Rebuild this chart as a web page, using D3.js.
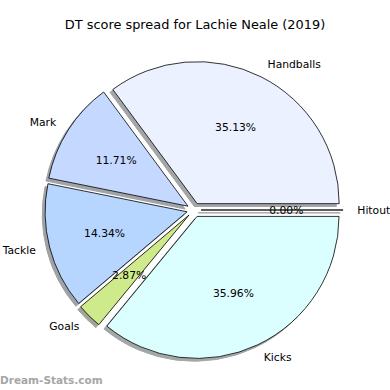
<!DOCTYPE html>
<html>
<head>
<meta charset="utf-8">
<script src="https://cdn.jsdelivr.net/npm/d3@7"></script>
<style>
  body { margin: 0; background: #fff; }
  svg { display: block; font-family: "DejaVu Sans", sans-serif; }
</style>
</head>
<body>
<div id="chart"></div>
<script>
// slices, counterclockwise from 3 o'clock (matplotlib order)
var labels = ["Hitout", "Handballs", "Mark", "Tackle", "Goals", "Kicks"];
var values = [0.00, 35.13, 11.71, 14.34, 2.87, 35.96];
var colors = ["#ffffff", "#ebf1ff", "#c5d8ff", "#b6d6ff", "#cfea8b", "#dbffff"];

var width = 390, height = 390;
var cx = 194, cy = 210, radius = 142;
var explode = 0.05 * radius;
var shadowOff = 0.02 * radius;

var svg = d3.select("#chart").append("svg")
    .attr("width", width)
    .attr("height", height);

svg.append("text")
    .attr("x", width / 2)
    .attr("y", 29)
    .attr("text-anchor", "middle")
    .style("font-size", "12.9px")
    .text("DT score spread for Lachie Neale (2019)");

var pie = d3.pie().sort(null)
    .startAngle(Math.PI / 2)
    .endAngle(Math.PI / 2 - 2 * Math.PI);

var arcs = pie(values);
var arc = d3.arc().innerRadius(0).outerRadius(radius);

// mid direction of each slice in screen coords
function dir(d) {
  var a = (d.startAngle + d.endAngle) / 2;
  return [Math.sin(a), -Math.cos(a)];
}

// shadows first, under every wedge
svg.append("g").selectAll("path")
    .data(arcs)
    .join("path")
    .attr("transform", function(d) {
      var u = dir(d);
      return "translate(" + (cx + explode * u[0] - shadowOff) + "," + (cy + explode * u[1] + shadowOff) + ")";
    })
    .attr("d", arc)
    .attr("fill", function(d, i) { return d3.rgb(colors[i]).darker(4); })
    .attr("stroke", function(d, i) { return d3.rgb(colors[i]).darker(4); })
    .attr("stroke-width", 1)
    .attr("opacity", 0.45);

svg.append("g").selectAll("path")
    .data(arcs)
    .join("path")
    .attr("transform", function(d) {
      var u = dir(d);
      return "translate(" + (cx + explode * u[0]) + "," + (cy + explode * u[1]) + ")";
    })
    .attr("d", arc)
    .attr("fill", function(d, i) { return colors[i]; })
    .attr("stroke", "#000")
    .attr("stroke-width", 0.8)
    .attr("stroke-linejoin", "miter");

// category labels at 1.1 r
svg.append("g").selectAll("text")
    .data(arcs)
    .join("text")
    .attr("x", function(d) { var u = dir(d); return cx + explode * u[0] + 1.1 * radius * u[0]; })
    .attr("y", function(d) { var u = dir(d); return cy + explode * u[1] + 1.1 * radius * u[1]; })
    .attr("dy", "0.35em")
    .attr("text-anchor", function(d) { return dir(d)[0] > 0 ? "start" : "end"; })
    .style("font-size", "10.75px")
    .text(function(d, i) { return labels[i]; });

// percentages at 0.6 r
svg.append("g").selectAll("text")
    .data(arcs)
    .join("text")
    .attr("x", function(d) { var u = dir(d); return cx + explode * u[0] + 0.6 * radius * u[0]; })
    .attr("y", function(d) { var u = dir(d); return cy + explode * u[1] + 0.6 * radius * u[1]; })
    .attr("dy", "0.35em")
    .attr("text-anchor", "middle")
    .style("font-size", "10.75px")
    .text(function(d) { return d.data.toFixed(2) + "%"; });

svg.append("text")
    .attr("x", 0)
    .attr("y", 384)
    .style("font-size", "10.5px")
    .style("font-weight", "bold")
    .attr("fill", "#a6a6a6")
    .text("Dream-Stats.com");
</script>
</body>
</html>
